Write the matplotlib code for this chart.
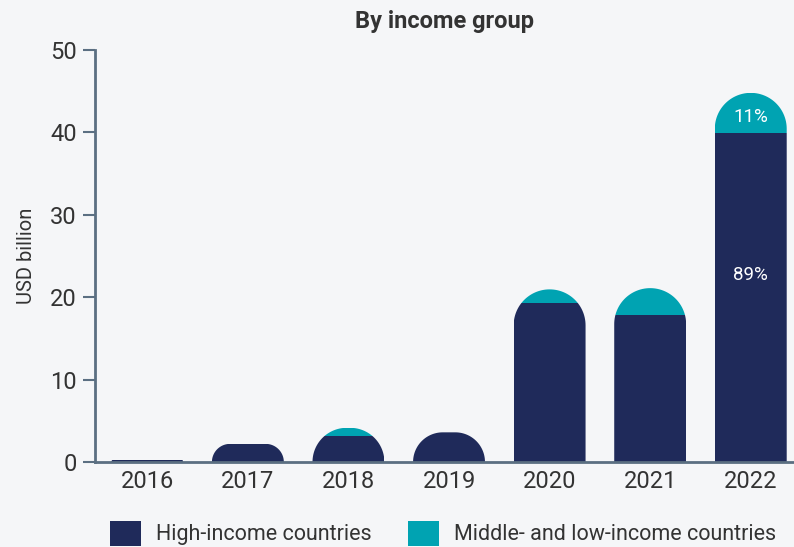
"""By income group: stacked bars with rounded tops."""
import matplotlib
matplotlib.use("Agg")
import matplotlib.pyplot as plt
from matplotlib.patches import Polygon, Patch
import numpy as np

years = ["2016", "2017", "2018", "2019", "2020", "2021", "2022"]
high_income = [0.3, 2.2, 3.15, 3.6, 19.3, 17.9, 39.9]
mid_low_income = [0.0, 0.0, 1.0, 0.0, 1.65, 3.2, 4.9]
share_labels = {6: ("89%", "11%")}

NAVY = "#1f2a5a"
TEAL = "#00a3b2"
SLATE = "#5b6f82"
BG = "#f5f6f8"
TXT = "#333333"

plt.rcParams["font.family"] = ["Roboto", "DejaVu Sans"]

W, H, DPI = 794, 547, 100
fig = plt.figure(figsize=(W / DPI, H / DPI), dpi=DPI, facecolor=BG)
ax_l, ax_r, ax_b, ax_t = 95, 794, 462, 50
ax = fig.add_axes([ax_l / W, (H - ax_b) / H, (ax_r - ax_l) / W, (ax_b - ax_t) / H])
ax.set_facecolor(BG)

xlim = (-0.52, 6.43)
ylim = (0, 50)
ax.set_xlim(*xlim)
ax.set_ylim(*ylim)
px_x = (ax_r - ax_l) / (xlim[1] - xlim[0])   # pixels per x unit
px_y = (ax_b - ax_t) / (ylim[1] - ylim[0])   # pixels per y unit

bar_w = 0.715
x = np.arange(len(years))
half_px = bar_w * px_x / 2


def rounded_top(xc, h):
    """Outline of a bar with rounded top corners (circular in pixels)."""
    h_px = h * px_y
    r = min(half_px, h_px)
    pts = [(-half_px, 0), (-half_px, h_px - r)]
    for a in np.linspace(np.pi, np.pi / 2, 30):
        pts.append((-half_px + r + r * np.cos(a), h_px - r + r * np.sin(a)))
    for a in np.linspace(np.pi / 2, 0, 30):
        pts.append((half_px - r + r * np.cos(a), h_px - r + r * np.sin(a)))
    pts.append((half_px, 0))
    return [(xc + px / px_x, py / px_y) for px, py in pts]


totals = [a + b for a, b in zip(high_income, mid_low_income)]
for i in range(len(years)):
    clip = Polygon(rounded_top(x[i], totals[i]), closed=True,
                   facecolor="none", edgecolor="none", transform=ax.transData)
    ax.add_patch(clip)
    b1 = ax.bar(x[i], high_income[i], width=bar_w, color=NAVY, linewidth=0)
    b2 = ax.bar(x[i], mid_low_income[i], bottom=high_income[i], width=bar_w,
                color=TEAL, linewidth=0)
    for r in list(b1) + list(b2):
        r.set_clip_path(clip)

for i, (lo, hi) in share_labels.items():
    ax.text(x[i], high_income[i] * 0.57, lo, color="white", fontsize=13.5,
            ha="center", va="center")
    ax.text(x[i], high_income[i] + mid_low_income[i] * 0.4, hi,
            color="white", fontsize=13.5, ha="center", va="center")

ax.set_xticks(x, years)
ax.set_yticks(range(0, 51, 10))
for s in ["top", "right"]:
    ax.spines[s].set_visible(False)
for s in ["left", "bottom"]:
    ax.spines[s].set_color(SLATE)
    ax.spines[s].set_linewidth(2)
ax.tick_params(axis="y", length=9, width=1.5, color=SLATE, labelsize=17,
               labelcolor=TXT, pad=4)
ax.tick_params(axis="x", length=0, labelsize=17, labelcolor=TXT, pad=6)
ax.set_ylabel("USD billion", fontsize=14.5, color=TXT, labelpad=10)
ax.set_title("By income group", fontsize=17, fontweight="bold", color=TXT, pad=16)

handles = [Patch(facecolor=NAVY, label="High-income countries"),
           Patch(facecolor=TEAL, label="Middle- and low-income countries")]
fig.legend(handles=handles, loc="center left", bbox_to_anchor=(0.138, 0.025),
           ncol=2, frameon=False, fontsize=15.5, handlelength=1.45,
           handleheight=1.45, handletextpad=0.7, columnspacing=1.7,
           labelcolor=TXT, borderaxespad=0, borderpad=0)

fig.savefig("out.png", dpi=DPI, facecolor=BG)
